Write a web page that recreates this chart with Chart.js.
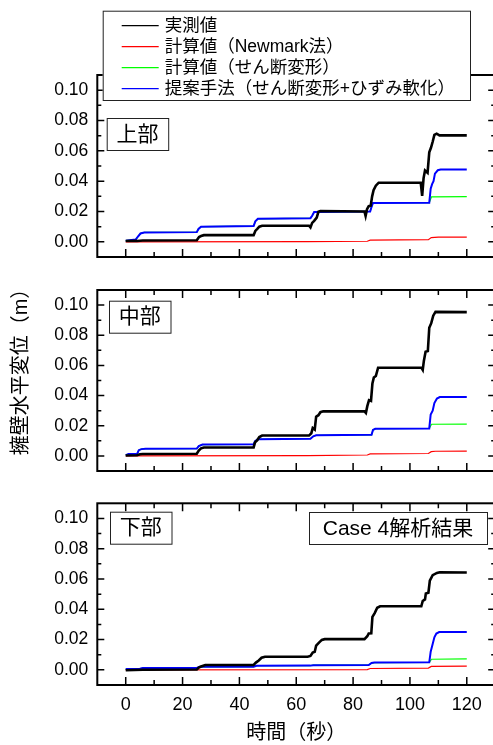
<!DOCTYPE html>
<html>
<head>
<meta charset="utf-8">
<script src="https://cdn.jsdelivr.net/npm/chart.js@4"></script>
<style>
  body { margin: 0; background: #fff; overflow: hidden; }
  #wrap { position: relative; width: 493px; height: 745px; overflow: hidden; }
  canvas { position: absolute; left: 0; }
</style>
</head>
<body>
<div id="wrap">
  <canvas id="upper" width="500" height="262" style="top:0px"></canvas>
  <canvas id="middle" width="500" height="214" style="top:262px"></canvas>
  <canvas id="lower" width="500" height="269" style="top:476px"></canvas>
</div>
<script>
// ---- data (time in s, displacement in m) ----
const seriesNames = ['実測値', '計算値（Newmark法）', '計算値（せん断変形）', '提案手法（せん断変形+ひずみ軟化）'];
const panelNames = ['上部', '中部', '下部'];
const caseLabel = 'Case 4解析結果';
const xTitle = '時間（秒）';
const yTitle = '擁壁水平変位（m）';
const timeTicks = [0, 20, 40, 60, 80, 100, 120];
const dispTicks = [0, 0.02, 0.04, 0.06, 0.08, 0.10];

// 上部
const upperMeasured = [[0,0.0005],[4,0.0006],[6,0.0009],[25,0.001],[25.8,0.0032],[26.5,0.0038],[27.5,0.0044],[45,0.0044],[45.6,0.0072],[46.3,0.0085],[47,0.0100],[48,0.0106],[64.5,0.0106],[65,0.0095],[65.6,0.0125],[66.3,0.0138],[67.2,0.0160],[67.8,0.0198],[68.5,0.0203],[84,0.0200],[84.4,0.0170],[84.9,0.0215],[85.5,0.0235],[86.2,0.0238],[86.7,0.0300],[87.2,0.0340],[88,0.0370],[89,0.0390],[103.8,0.0390],[104.3,0.0303],[104.8,0.0420],[105.3,0.0470],[106.2,0.0455],[106.8,0.0590],[107.4,0.0620],[108,0.0660],[108.6,0.0705],[109.4,0.0713],[110.4,0.0702],[120,0.0702]];
const upperNewmark = [[0,0],[64,0.0001],[85,0.0004],[86,0.0011],[106.5,0.0014],[107.5,0.0028],[110,0.0031],[120,0.0031]];
const upperShear = [[0,0.0008],[3.5,0.0015],[4.3,0.0035],[5.2,0.0055],[6.5,0.0062],[25,0.0064],[25.6,0.0085],[26.5,0.0100],[45,0.0104],[45.6,0.0135],[46.5,0.0152],[65,0.0156],[65.6,0.0172],[66.3,0.0196],[86,0.0200],[86.4,0.0225],[87,0.0256],[106.8,0.0258],[107.6,0.0297],[120,0.0298]];
const upperProposed = [[0,0.0008],[3.5,0.0015],[4.3,0.0035],[5.2,0.0055],[6.5,0.0062],[25,0.0064],[25.6,0.0085],[26.5,0.0100],[45,0.0104],[45.6,0.0135],[46.5,0.0152],[65,0.0156],[65.6,0.0172],[66.3,0.0196],[86,0.0200],[86.4,0.0225],[87,0.0256],[106.8,0.0258],[107.3,0.0350],[107.8,0.0380],[108.3,0.0400],[108.8,0.0450],[109.8,0.0472],[110.8,0.0477],[120,0.0477]];

// 中部
const middleMeasured = [[0,0.0003],[4,0.0004],[5,0.0011],[6,0.0013],[25,0.0014],[25.7,0.0035],[26.5,0.0050],[27.5,0.0056],[45,0.0056],[45.5,0.0090],[46.3,0.0105],[47,0.0125],[48,0.0135],[64.5,0.0135],[65.3,0.0150],[65.8,0.0185],[66.5,0.0175],[67,0.0260],[67.8,0.0270],[68.5,0.0290],[69.5,0.0296],[84,0.0295],[84.5,0.0285],[85,0.0330],[85.6,0.0370],[86.3,0.0365],[86.8,0.0480],[87.3,0.0520],[88,0.0530],[88.8,0.0585],[104,0.0585],[104.5,0.0570],[104.9,0.0630],[105.5,0.0690],[106.3,0.0695],[106.8,0.0850],[107.5,0.0880],[108.2,0.0930],[109,0.0955],[120,0.0953]];
const middleNewmark = [[0,0],[64,0.0002],[85,0.0006],[86,0.0013],[106.5,0.0016],[107.5,0.0028],[109,0.0031],[120,0.0032]];
const middleShear = [[0,0.0005],[1,0.0012],[4,0.0013],[4.6,0.0038],[5.5,0.0045],[7,0.0048],[25,0.0049],[25.7,0.0065],[27,0.0075],[45,0.0077],[45.5,0.0098],[46.5,0.0110],[65,0.0114],[66,0.0130],[67,0.0137],[86.5,0.0140],[87,0.0172],[87.8,0.0180],[106.8,0.0182],[107.6,0.0210],[120,0.0211]];
const middleProposed = [[0,0.0005],[1,0.0012],[4,0.0013],[4.6,0.0038],[5.5,0.0045],[7,0.0048],[25,0.0049],[25.7,0.0065],[27,0.0075],[45,0.0077],[45.5,0.0098],[46.5,0.0110],[65,0.0114],[66,0.0130],[67,0.0137],[86.5,0.0140],[87,0.0172],[87.8,0.0180],[106.8,0.0182],[107.3,0.0275],[108,0.0300],[108.6,0.0350],[109.5,0.0380],[110.5,0.0390],[120,0.0390]];

// 下部
const lowerMeasured = [[0,-0.0003],[6,0.0001],[25,0.0002],[25.7,0.0015],[26.5,0.0022],[28,0.0032],[45,0.0033],[45.8,0.0048],[46.8,0.0062],[47.8,0.0080],[49,0.0087],[64,0.0087],[65,0.0092],[65.8,0.0115],[66.5,0.0120],[67,0.0160],[68,0.0180],[69,0.0198],[70,0.0203],[84,0.0203],[85,0.0222],[85.5,0.0240],[86.4,0.0242],[86.8,0.0350],[87.6,0.0375],[88.5,0.0410],[89.5,0.0420],[104,0.0420],[104.5,0.0455],[105.3,0.0465],[105.6,0.0505],[106.5,0.0510],[107,0.0590],[108,0.0625],[109.5,0.0640],[110.5,0.0645],[120,0.0643]];
const lowerNewmark = [[0,0],[85,0.0002],[86,0.0009],[106.5,0.0012],[107.5,0.0023],[120,0.0025]];
const lowerShear = [[0,0.0005],[5,0.0007],[6,0.0012],[25,0.0013],[26,0.0020],[45,0.0021],[46,0.0027],[65,0.0028],[66,0.0031],[85.5,0.0032],[86.5,0.0045],[87.5,0.0048],[106.8,0.0050],[107.6,0.0070],[120,0.0072]];
const lowerProposed = [[0,0.0005],[5,0.0007],[6,0.0012],[25,0.0013],[26,0.0020],[45,0.0021],[46,0.0027],[65,0.0028],[66,0.0031],[85.5,0.0032],[86.5,0.0045],[87.5,0.0048],[106.8,0.0050],[107.3,0.0120],[108,0.0170],[108.6,0.0215],[109.3,0.0240],[110.3,0.0250],[120,0.0250]];

const colors = ['#000000', '#ff0000', '#00ff00', '#0000ff'];
const widths = [2.6, 1.2, 1.2, 2];
const drawOrder = [0, 3, 2, 1];
const fontStack = "'Liberation Sans', 'Noto Sans CJK JP', sans-serif";

Chart.defaults.color = '#000';
Chart.defaults.font.family = fontStack;

// frame + inward ticks on all four sides
const frameTicks = {
  id: 'frameTicks',
  afterDatasetsDraw(chart) {
    const {ctx, chartArea: a, scales: {x, y}} = chart;
    ctx.save();
    ctx.strokeStyle = '#000';
    ctx.lineWidth = 1.5;
    ctx.beginPath();
    timeTicks.forEach((t, i) => {
      const px = x.getPixelForValue(t);
      ctx.moveTo(px, a.bottom); ctx.lineTo(px, a.bottom - 8);
      ctx.moveTo(px, a.top); ctx.lineTo(px, a.top + 8);
      if (i < timeTicks.length - 1) {
        const pm = x.getPixelForValue((t + timeTicks[i + 1]) / 2);
        ctx.moveTo(pm, a.bottom); ctx.lineTo(pm, a.bottom - 5);
        ctx.moveTo(pm, a.top); ctx.lineTo(pm, a.top + 5);
      }
    });
    dispTicks.forEach((v, i) => {
      const py = y.getPixelForValue(v);
      ctx.moveTo(a.left, py); ctx.lineTo(a.left + 7, py);
      ctx.moveTo(a.right, py); ctx.lineTo(a.right - 7, py);
      if (i < dispTicks.length - 1) {
        const pm = y.getPixelForValue((v + dispTicks[i + 1]) / 2);
        ctx.moveTo(a.left, pm); ctx.lineTo(a.left + 4, pm);
        ctx.moveTo(a.right, pm); ctx.lineTo(a.right - 4, pm);
      }
    });
    ctx.stroke();
    ctx.lineWidth = 2;
    ctx.strokeRect(a.left, a.top, a.right - a.left, a.bottom - a.top);
    ctx.restore();
  }
};

// text boxes, legend, axis titles
const boxes = {
  id: 'boxes',
  afterDraw(chart, args, opts) {
    const ctx = chart.ctx;
    ctx.save();
    (opts.items || []).forEach(b => {
      ctx.fillStyle = '#fff';
      ctx.fillRect(b.x, b.y, b.w, b.h);
      ctx.strokeStyle = '#222';
      ctx.lineWidth = 1;
      ctx.strokeRect(b.x + 0.5, b.y + 0.5, b.w, b.h);
      ctx.fillStyle = '#000';
      ctx.font = '21px ' + fontStack;
      ctx.textAlign = 'center';
      ctx.textBaseline = 'middle';
      ctx.fillText(b.text, b.x + b.w / 2, b.y + b.h / 2 + 1);
    });
    const lg = opts.legend;
    if (lg) {
      ctx.fillStyle = '#fff';
      ctx.fillRect(lg.x, lg.y, lg.w, lg.h);
      ctx.strokeStyle = '#222';
      ctx.lineWidth = 1;
      ctx.strokeRect(lg.x + 0.5, lg.y + 0.5, lg.w, lg.h);
      ctx.font = '17.5px ' + fontStack;
      ctx.textAlign = 'left';
      ctx.textBaseline = 'middle';
      chart.data.datasets.forEach((ds, i) => {
        const ry = lg.y + 15 + i * 21;
        ctx.strokeStyle = ds.borderColor;
        ctx.lineWidth = 1.3;
        ctx.beginPath();
        ctx.moveTo(lg.x + 19, ry); ctx.lineTo(lg.x + 56, ry);
        ctx.stroke();
        ctx.fillStyle = '#000';
        ctx.fillText(ds.label, lg.x + 62, ry);
      });
    }
    const yt = opts.yTitle;
    if (yt) {
      ctx.translate(yt.x, yt.y);
      ctx.rotate(-Math.PI / 2);
      ctx.fillStyle = '#000';
      ctx.font = '20px ' + fontStack;
      ctx.textAlign = 'center';
      ctx.textBaseline = 'middle';
      ctx.fillText(yTitle, 0, 0);
    }
    ctx.restore();
  }
};

function makePanel(id, series, opt) {
  const datasets = series.map((pts, i) => ({
    label: seriesNames[i],
    data: pts.map(p => ({x: p[0], y: p[1]})),
    borderColor: colors[i],
    borderWidth: widths[i],
    pointRadius: 0,
    tension: 0,
    fill: false,
    order: drawOrder[i]
  }));
  return new Chart(document.getElementById(id), {
    type: 'line',
    data: {datasets: datasets},
    options: {
      responsive: false,
      animation: false,
      events: [],
      layout: {padding: {top: opt.padTop, right: 4.8, bottom: 0, left: 0}},
      plugins: {
        legend: {display: false},
        tooltip: {enabled: false},
        boxes: {items: opt.boxes, legend: opt.legend, yTitle: opt.yTitle}
      },
      scales: {
        x: {
          type: 'linear',
          min: -10,
          max: 130,
          afterBuildTicks: (s) => { s.ticks = timeTicks.map(v => ({value: v})); },
          afterFit: (s) => { s.height = opt.xHeight; s.paddingLeft = 0; s.paddingRight = 0; },
          grid: {display: false, drawTicks: false},
          border: {display: false},
          ticks: {display: opt.showX, padding: 9, font: {size: 18}, callback: (v) => String(v)},
          title: {display: opt.showX, text: xTitle, padding: {top: 0, bottom: 0}, font: {size: 20}}
        },
        y: {
          min: -0.01,
          max: 0.11,
          afterBuildTicks: (s) => { s.ticks = dispTicks.map(v => ({value: v})); },
          afterFit: (s) => { s.width = 97.3; s.paddingTop = 0; s.paddingBottom = 0; },
          grid: {display: false, drawTicks: false},
          border: {display: false},
          ticks: {padding: 9, font: {size: 17.5}, callback: (v) => v.toFixed(2)},
        }
      }
    },
    plugins: [frameTicks, boxes]
  });
}

makePanel('upper', [upperMeasured, upperNewmark, upperShear, upperProposed], {
  padTop: 75, xHeight: 5, showX: false,
  boxes: [{text: panelNames[0], x: 106.7, y: 118, w: 61.5, h: 32}],
  legend: {x: 102.7, y: 10.7, w: 367.3, h: 89.3}
});
makePanel('middle', [middleMeasured, middleNewmark, middleShear, middleProposed], {
  padTop: 28, xHeight: 5, showX: false,
  boxes: [{text: panelNames[1], x: 109, y: 38.7, w: 61.5, h: 32}],
  yTitle: {x: 21, y: 105}
});
makePanel('lower', [lowerMeasured, lowerNewmark, lowerShear, lowerProposed], {
  padTop: 27.3, xHeight: 60, showX: true,
  boxes: [{text: panelNames[2], x: 110, y: 35.7, w: 61.5, h: 32},
          {text: caseLabel, x: 309, y: 36, w: 178, h: 32}]
});
</script>
</body>
</html>
